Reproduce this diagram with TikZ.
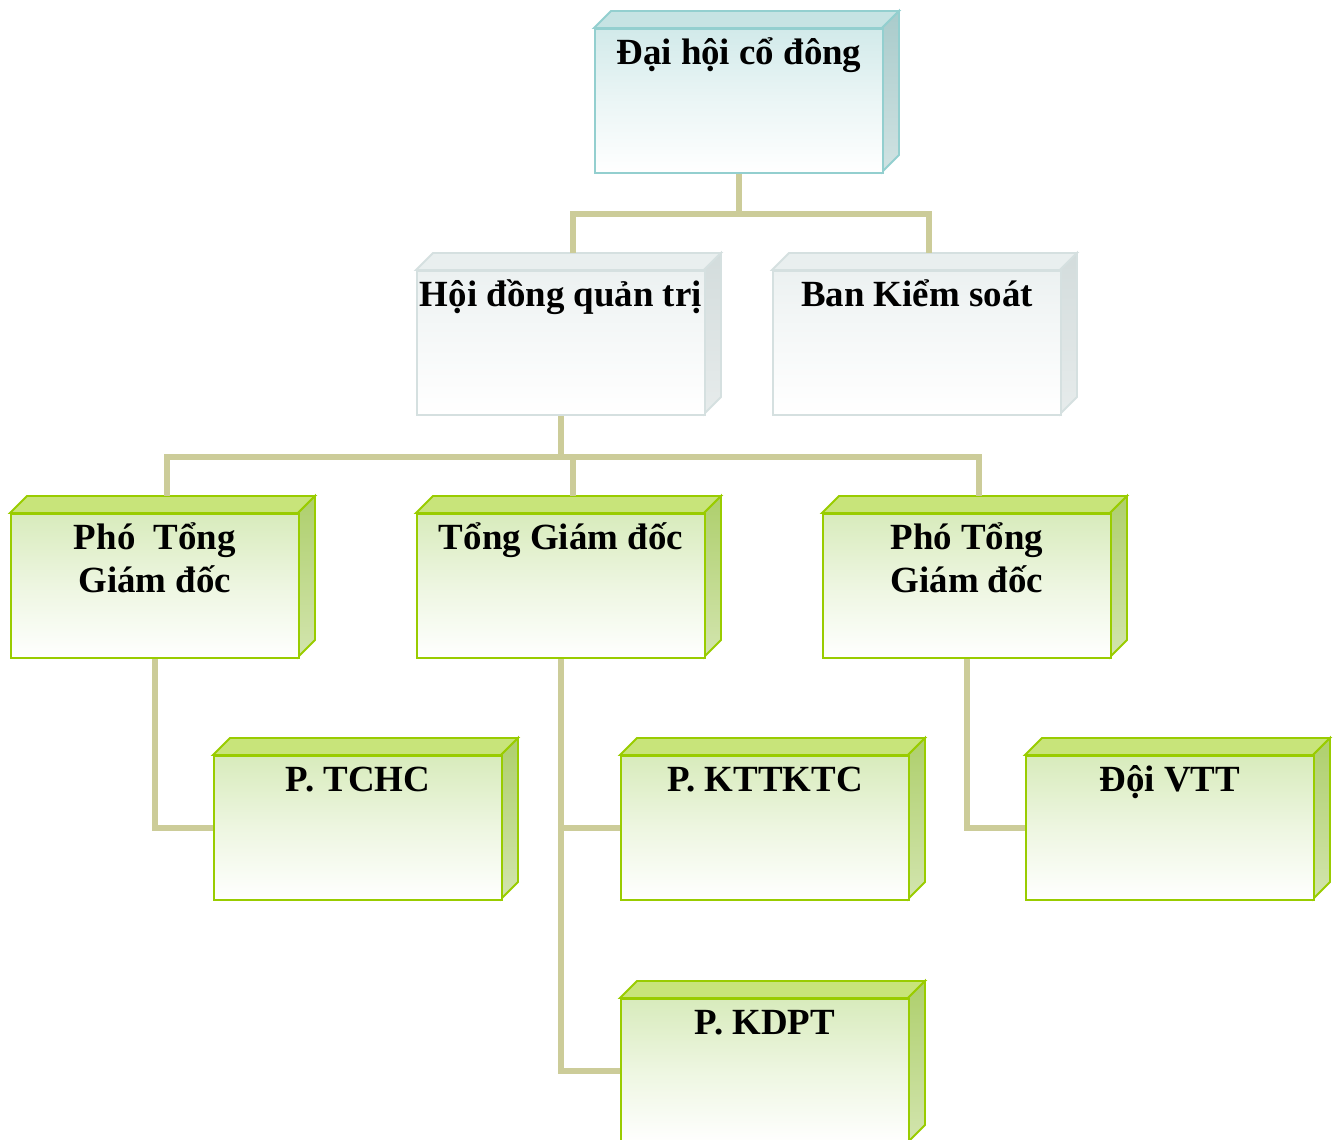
\documentclass[tikz,border=0pt]{standalone}
\usepackage{fontspec}
\setmainfont{Liberation Serif}
\usetikzlibrary{calc}

\definecolor{noi}{HTML}{CCCC99}
\definecolor{tealB}{HTML}{93CFCF}
\definecolor{tealT}{HTML}{C6E3E3}
\definecolor{tealS}{HTML}{A9CBCB}
\definecolor{tealF}{HTML}{D2EAEA}
\definecolor{xamB}{HTML}{D5E0E0}
\definecolor{xamT}{HTML}{E9EFEF}
\definecolor{xamS}{HTML}{D3DCDC}
\definecolor{xamF}{HTML}{ECF1F1}
\definecolor{xanhB}{HTML}{99CC00}
\definecolor{xanhT}{HTML}{C8E47A}
\definecolor{xanhS}{HTML}{AECF6C}
\definecolor{xanhF}{HTML}{D8EBBC}

\begin{document}
\begin{tikzpicture}[x=0.02cm,y=-0.02cm,
  chu/.style={font=\fontsize{21}{24.5}\selectfont\bfseries, inner sep=0pt},
  conn/.style={draw=noi, line width=0.11cm}]

\useasboundingbox (0,0) rectangle (1341,1139);

\def\hop(#1,#2,#3,#4,#5){ % ten, (x,y) goc tren trai, bo mau, chu
\begin{scope}[shift={(#2,#3)}]
%Mat tren cua hop
\filldraw[draw=#4B, fill=#4T, line width=1.1pt] (0,0) -- (17,-17) -- (305,-17) -- (288,0) -- cycle;
%Mat ben phai
\path[draw=#4B, top color=#4S, bottom color=#4S!55!white, line width=1.1pt] (288,0) -- (305,-17) -- (305,127) -- (288,144) -- cycle;
%Mat truoc (node chinh)
\node[draw=#4B, top color=#4F, bottom color=white, middle color=#4F!45!white, line width=1.1pt,
  anchor=north west, minimum width=5.76cm, minimum height=2.88cm, inner sep=0pt] (#1) at (0,0) {};
\end{scope}
%Chu: dong dau tien cach mep tren 36px
\node[chu, anchor=base] (#1-t) at ($(#1.north)+(0,36)$) {\begin{tabular}[t]{@{}c@{}}#5\end{tabular}};
\coordinate (#1-top) at ($(#1.north)+(12,-17)$);
}

%Ve cac hop
\hop(dhcd,594,28,teal,Đại hội cổ đông)
\hop(hdqt,416,270,xam,Hội đồng quản trị)
\hop(bks,772,270,xam,Ban Kiểm soát)
\hop(pho1,10,513,xanh,Phó\ \ Tổng\\Giám đốc)
\hop(tgd,416,513,xanh,Tổng Giám đốc)
\hop(pho2,822,513,xanh,Phó Tổng\\Giám đốc)
\hop(tchc,213,755,xanh,P. TCHC)
\hop(kttktc,620,755,xanh,P. KTTKTC)
\hop(dvtt,1025,755,xanh,Đội VTT)
\hop(kdpt,620,998,xanh,P. KDPT)

%Ve cac duong noi
\draw[conn] (dhcd.south) -- ++(0,40) coordinate (j1);
\draw[conn] (hdqt-top) |- (j1) -| (bks-top);
\draw[conn] (hdqt.south) -- ++(0,41) coordinate (j2);
\draw[conn] (pho1-top) |- (j2) -| (pho2-top);
\draw[conn] (tgd-top) -- (tgd-top |- j2);
\draw[conn] (pho1.south) |- (tchc.west);
\draw[conn] (tgd.south) |- (kdpt.west);
\draw[conn] (tgd.south |- kttktc.west) -- (kttktc.west);
\draw[conn] (pho2.south) |- (dvtt.west);

\end{tikzpicture}
\end{document}
